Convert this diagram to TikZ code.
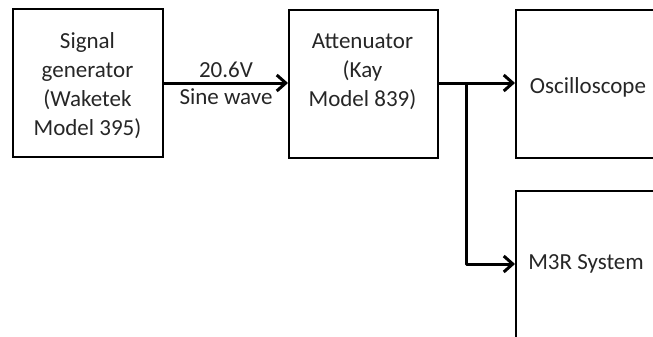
\documentclass[tikz,border=0pt]{standalone}
\usepackage{fontspec}
\setmainfont{Carlito}
\usetikzlibrary{arrows.meta}
\begin{document}
\begin{tikzpicture}[x=1pt,y=-1pt,
  box/.style={draw=black,line width=2pt,minimum width=150pt,minimum height=148pt,anchor=north west,inner sep=0pt},
  lbl/.style={font=\fontsize{23}{29}\selectfont,align=center,inner sep=0pt,text=black!85},
  conn/.style={line width=3pt,-{Straight Barb[length=9pt,width=16pt,line width=3pt]}}]
\useasboundingbox (0,0) rectangle (653,337);
\node[box] (sg) at (12,8) {};
\node[box,minimum width=149pt] (att) at (288,9) {};
\node[box] (osc) at (515,9) {};
\node[box] (m3r) at (515,190) {};
\node[lbl] (sgt) at (87.5,86) {Signal\\generator\\(Waketek\\Model 395)};
\node[lbl] (attt) at (362.5,72) {Attenuator\\(Kay\\Model 839)};
\node[lbl] (osct) at (588,87) {Oscilloscope};
\node[lbl] (m3rt) at (586,264) {M3R System};
\coordinate (a1) at (sg.east |- 0,83);
\coordinate (a2) at (att.west |- 0,83);
\coordinate (b1) at (att.east |- 0,83);
\coordinate (b2) at (osc.west |- 0,83);
\coordinate (br) at (466,83);
\coordinate (c2) at (m3r.west |- 0,264);
\draw[conn] (a1) -- node[lbl,above=4pt] (v) {20.6V} node[lbl,below=4pt] (sw) {Sine wave} (a2);
\draw[conn] (b1) -- (b2);
\draw[conn,line join=round] (br) |- (c2);
\end{tikzpicture}
\end{document}
